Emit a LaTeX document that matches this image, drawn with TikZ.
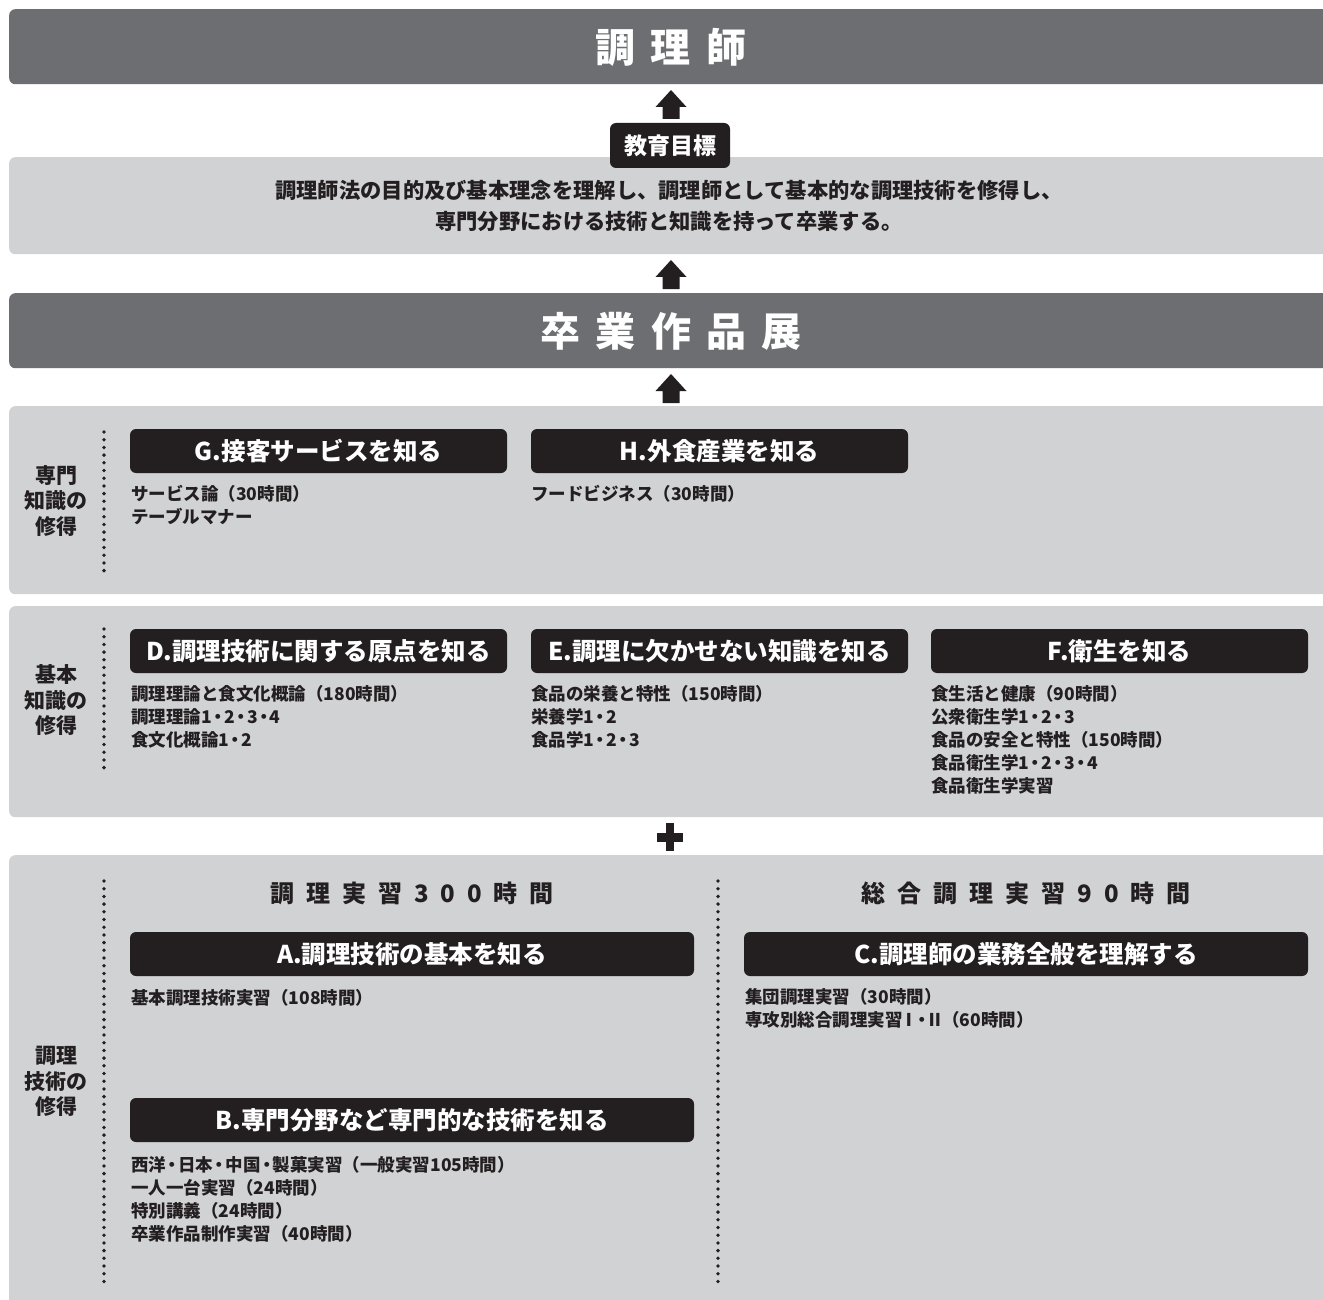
\documentclass[tikz,border=0pt]{standalone}
\usepackage{fontspec}
\newfontfamily\jp{Noto Sans CJK JP}
\newfontfamily\jpbig{Noto Sans CJK JP}[LetterSpace=38]
\newfontfamily\jpls{Noto Sans CJK JP}[LetterSpace=50]
\newcommand\nd{\kern-0.15em・\kern-0.15em}
\newcommand\rmI{\kern-0.12emⅠ\kern-0.12em}
\newcommand\rmII{\kern-0.1emⅡ\kern-0.1em}
\definecolor{banddark}{HTML}{6D6E71}
\definecolor{bandlight}{HTML}{D1D2D4}
\definecolor{inkc}{HTML}{231F20}
\tikzset{
  band/.style={rounded corners=6pt, inner sep=0pt, anchor=north west, minimum width=1331pt},
  darkband/.style={band, fill=banddark},
  lightband/.style={band, fill=bandlight},
  titlebox/.style={fill=inkc, rounded corners=6pt, inner sep=0pt, text=white,
    font=\jp\bfseries\fontsize{24.5}{28}\selectfont},
  listtxt/.style={anchor=west, inner sep=0pt, align=left, text=inkc,
    font=\jp\bfseries\fontsize{17.5}{23}\selectfont},
  sidelbl/.style={inner sep=0pt, align=center, text=inkc,
    font=\jp\bfseries\fontsize{21}{25.5}\selectfont},
  bigtitle/.style={inner sep=0pt, text=white, font=\jpbig\bfseries\fontsize{40}{44}\selectfont},
  subhead/.style={inner sep=0pt, text=inkc, font=\jpls\bfseries\fontsize{24}{28}\selectfont},
  dotline/.style={draw=inkc, line width=3.8pt, line cap=round, dash pattern=on 0pt off 7.7pt},
  uparr/.pic={\fill[inkc] (0,0) -- (15.5,17) -- (8.5,17) -- (8.5,29) -- (-8.5,29) -- (-8.5,17) -- (-15.5,17) -- cycle;}
}
\begin{document}
\begin{tikzpicture}[x=1pt,y=-1pt]
\clip (0,0) rectangle (1323,1300);
\fill[white] (0,0) rectangle (1323,1300);

% bands
\node[darkband, minimum height=75pt] (b1) at (9,9) {};
\node[lightband, minimum height=97pt] (b2) at (9,157) {};
\node[darkband, minimum height=75pt] (b3) at (9,293) {};
\node[lightband, minimum height=188pt] (b4) at (9,406) {};
\node[lightband, minimum height=211pt] (b5) at (9,606) {};
\node[lightband, minimum height=470pt] (b6) at (9,855) {};

% top title
\node[bigtitle] (t1) at (671,47) {調理師};
\pic at (671,90) {uparr};
\node[titlebox, minimum width=120pt, minimum height=45pt, font=\jp\bfseries\fontsize{23}{26}\selectfont] (goal) at (670,145.5) {教育目標};
\node[inner sep=0pt, align=center, text=inkc, font=\jp\bfseries\fontsize{21.3}{31}\selectfont] (goaltxt) at (669,205.5)
  {調理師法の目的及び基本理念を理解し、調理師として基本的な調理技術を修得し、\\専門分野における技術と知識を持って卒業する。};
\pic at (671,260) {uparr};
\node[bigtitle] (t2) at (671,331) {卒業作品展};
\pic at (671,374) {uparr};

% section: 専門知識
\node[sidelbl] (l4) at (56,501) {専門\\知識の\\修得};
\path[dotline] (104,432) -- (104,572);
\node[titlebox, minimum width=377pt, minimum height=44pt] (G) at (318.5,451) {G.接客サービスを知る};
\node[titlebox, minimum width=377pt, minimum height=44pt] (H) at (719.5,451) {H.外食産業を知る};
\node[listtxt] (Gt) at (131,505.5) {サービス論（30時間）\\テーブルマナー};
\node[listtxt] (Ht) at (531,494) {フードビジネス（30時間）};

% section: 基本知識
\node[sidelbl] (l5) at (56,700.5) {基本\\知識の\\修得};
\path[dotline] (104,629) -- (104,773);
\node[titlebox, minimum width=377pt, minimum height=44pt] (D) at (318.5,651) {D.調理技術に関する原点を知る};
\node[titlebox, minimum width=377pt, minimum height=44pt] (E) at (719.5,651) {E.調理に欠かせない知識を知る};
\node[titlebox, minimum width=377pt, minimum height=44pt] (F) at (1119.5,651) {F.衛生を知る};
\node[listtxt] (Dt) at (131,717) {調理理論と食文化概論（180時間）\\調理理論1\nd 2\nd 3\nd 4\\食文化概論1\nd 2};
\node[listtxt] (Et) at (531,717) {食品の栄養と特性（150時間）\\栄養学1\nd 2\\食品学1\nd 2\nd 3};
\node[listtxt] (Ft) at (931,740) {食生活と健康（90時間）\\公衆衛生学1\nd 2\nd 3\\食品の安全と特性（150時間）\\食品衛生学1\nd 2\nd 3\nd 4\\食品衛生学実習};

% plus
\fill[inkc] (665.75,823) rectangle (674.25,851);
\fill[inkc] (657,832.5) rectangle (683,841.5);

% section: 調理技術
\node[sidelbl] (l6) at (56,1081.5) {調理\\技術の\\修得};
\path[dotline] (104,881) -- (104,1283);
\path[dotline] (718,881) -- (718,1283);
\node[subhead] (h1) at (412,893) {調理実習300時間};
\node[subhead] (h2) at (1026,893) {総合調理実習90時間};
\node[titlebox, minimum width=564pt, minimum height=44pt] (A) at (412,954) {A.調理技術の基本を知る};
\node[titlebox, minimum width=564pt, minimum height=44pt] (C) at (1026,954) {C.調理師の業務全般を理解する};
\node[titlebox, minimum width=564pt, minimum height=44pt] (B) at (412,1120) {B.専門分野など専門的な技術を知る};
\node[listtxt] (At) at (131,998) {基本調理技術実習（108時間）};
\node[listtxt] (Ct) at (745,1008.5) {集団調理実習（30時間）\\専攻別総合調理実習\rmI\nd\rmII（60時間）};
\node[listtxt] (Bt) at (131,1199) {西洋\nd 日本\nd 中国\nd 製菓実習（一般実習105時間）\\一人一台実習（24時間）\\特別講義（24時間）\\卒業作品制作実習（40時間）};
\end{tikzpicture}
\end{document}
